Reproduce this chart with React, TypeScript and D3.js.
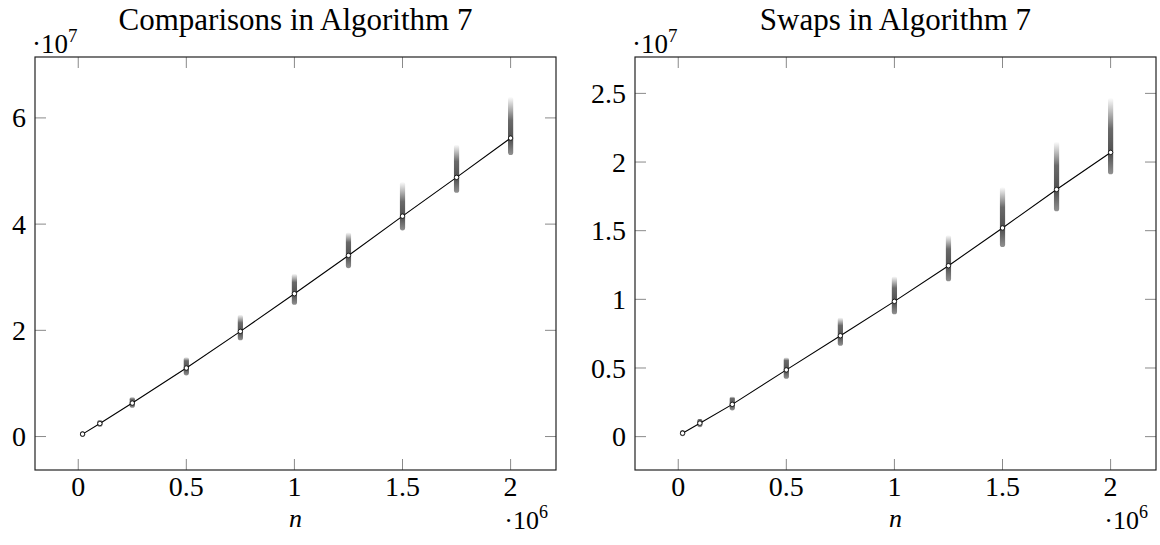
import * as d3 from 'd3'

// n in units of 10^6, counts in units of 10^7 (matches the axis scale labels)
const nValues = [0.02, 0.1, 0.25, 0.5, 0.75, 1.0, 1.25, 1.5, 1.75, 2.0]

const compMean = [0.046, 0.245, 0.63, 1.29, 1.98, 2.69, 3.41, 4.15, 4.88, 5.62]
const compLow = [0.042, 0.232, 0.59, 1.2, 1.86, 2.53, 3.22, 3.93, 4.64, 5.35]
const compHigh = [0.05, 0.265, 0.7, 1.45, 2.25, 3.02, 3.8, 4.75, 5.45, 6.35]

const swapMean = [0.025, 0.098, 0.235, 0.486, 0.735, 0.985, 1.245, 1.52, 1.8, 2.07]
const swapLow = [0.022, 0.088, 0.21, 0.44, 0.68, 0.91, 1.15, 1.4, 1.66, 1.93]
const swapHigh = [0.029, 0.112, 0.275, 0.56, 0.85, 1.15, 1.45, 1.8, 2.13, 2.45]

const xTicks = [0, 0.5, 1, 1.5, 2]
const xTickLabels = ['0', '0.5', '1', '1.5', '2']
const compTicks = [0, 2, 4, 6]
const compTickLabels = ['0', '2', '4', '6']
const swapTicks = [0, 0.5, 1, 1.5, 2, 2.5]
const swapTickLabels = ['0', '0.5', '1', '1.5', '2', '2.5']

const FONT = '"Liberation Serif", "DejaVu Serif", serif'
const TOP = 57
const BOTTOM = 470
const TICK = 11

type PanelProps = {
  id: string
  left: number
  right: number
  title: string
  yDomain: [number, number]
  mean: number[]
  low: number[]
  high: number[]
  yTicks: number[]
  yTickLabels: string[]
}

function Panel({ id, left, right, title, yDomain, mean, low, high, yTicks, yTickLabels }: PanelProps) {
  const x = d3.scaleLinear().domain([-0.2, 2.21]).range([left, right])
  const y = d3.scaleLinear().domain(yDomain).range([BOTTOM, TOP])
  const line = d3
    .line<number>()
    .x((_, i) => x(nValues[i]))
    .y((d) => y(d))
  const cx = (left + right) / 2

  return (
    <g>
      <defs>
        {nValues.map((n, i) => {
          const span = high[i] - low[i] || 1
          const darkTop = Math.min(high[i], mean[i] + (mean[i] - low[i]) * 1.2)
          return (
            <linearGradient key={n} id={`${id}-g${i}`} x1="0" y1="0" x2="0" y2="1">
              <stop offset="0" stopColor="#383838" stopOpacity={0} />
              <stop offset={(high[i] - darkTop) / span} stopColor="#383838" stopOpacity={0.75} />
              <stop offset={(high[i] - mean[i]) / span} stopColor="#383838" stopOpacity={0.88} />
              <stop offset="1" stopColor="#383838" stopOpacity={0.55} />
            </linearGradient>
          )
        })}
      </defs>

      {/* sample clouds */}
      {nValues.map((n, i) => (
        <rect
          key={n}
          x={x(n) - 2.6}
          y={y(high[i]) - 2.6}
          width={5.2}
          height={y(low[i]) - y(high[i]) + 5.2}
          rx={2.6}
          fill={`url(#${id}-g${i})`}
        />
      ))}

      <path d={line(mean) ?? ''} fill="none" stroke="#000" strokeWidth={1.1} />
      {nValues.map((n, i) => (
        <circle key={n} cx={x(n)} cy={y(mean[i])} r={2.2} fill="#fff" stroke="#000" strokeWidth={0.8} />
      ))}

      {/* ticks on all four sides */}
      {xTicks.map((t) => (
        <g key={t} stroke="#8a8a8a" strokeWidth={1}>
          <line x1={x(t)} x2={x(t)} y1={BOTTOM} y2={BOTTOM - TICK} />
          <line x1={x(t)} x2={x(t)} y1={TOP} y2={TOP + TICK} />
        </g>
      ))}
      {yTicks.map((t) => (
        <g key={t} stroke="#8a8a8a" strokeWidth={1}>
          <line x1={left} x2={left + TICK} y1={y(t)} y2={y(t)} />
          <line x1={right} x2={right - TICK} y1={y(t)} y2={y(t)} />
        </g>
      ))}
      <rect x={left} y={TOP} width={right - left} height={BOTTOM - TOP} fill="none" stroke="#222" strokeWidth={1.2} />

      <g fontFamily={FONT} fill="#000">
        {xTicks.map((t, i) => (
          <text key={t} x={x(t)} y={496} fontSize={28} textAnchor="middle">
            {xTickLabels[i]}
          </text>
        ))}
        {yTicks.map((t, i) => (
          <text key={t} x={left - 9} y={y(t)} dy="0.34em" fontSize={28} textAnchor="end">
            {yTickLabels[i]}
          </text>
        ))}
        <text x={cx} y={30} fontSize={31} textAnchor="middle">
          {title}
        </text>
        <text x={left - 3} y={53} fontSize={27}>
          ·10<tspan dy={-11} fontSize={19}>7</tspan>
        </text>
        <text x={cx} y={527} fontSize={26} fontStyle="italic" textAnchor="middle">
          n
        </text>
        <text x={right - 8} y={529} fontSize={26} textAnchor="end">
          ·10<tspan dy={-11} fontSize={18}>6</tspan>
        </text>
      </g>
    </g>
  )
}

export default function App() {
  return (
    <svg
      width={1160}
      height={545}
      style={{ position: 'absolute', left: 0, top: 0, background: '#fff' }}
    >
      <Panel
        id="cmp"
        left={35}
        right={556}
        title="Comparisons in Algorithm 7"
        yDomain={[-0.63, 7.147]}
        mean={compMean}
        low={compLow}
        high={compHigh}
        yTicks={compTicks}
        yTickLabels={compTickLabels}
      />
      <Panel
        id="swp"
        left={635}
        right={1156}
        title="Swaps in Algorithm 7"
        yDomain={[-0.243, 2.765]}
        mean={swapMean}
        low={swapLow}
        high={swapHigh}
        yTicks={swapTicks}
        yTickLabels={swapTickLabels}
      />
    </svg>
  )
}
